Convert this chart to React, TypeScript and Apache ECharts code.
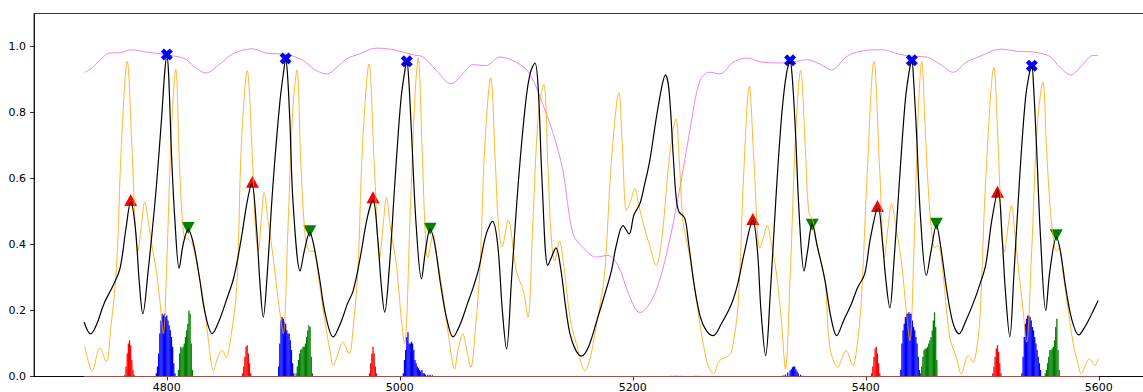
import React, { useEffect, useRef } from "react";
import * as echarts from "echarts";

const X_TICKS = [4800, 5000, 5200, 5400, 5600];
const Y_TICKS = [0, 0.2, 0.4, 0.6, 0.8, 1.0];

const blackLine: [number, number][] = [
  [4729, 0.165], [4734.5, 0.129], [4740, 0.16], [4746, 0.22], [4754.5, 0.28], [4760, 0.33], [4765, 0.45], [4769, 0.53],
  [4773, 0.45], [4776.5, 0.28], [4779.4, 0.19], [4784, 0.32], [4788, 0.46], [4791, 0.575], [4795.4, 0.777], [4798.3, 0.927],
  [4800, 0.97], [4801.5, 0.92], [4804, 0.675], [4807, 0.47], [4810.6, 0.328], [4814, 0.4], [4818.3, 0.445], [4823, 0.4],
  [4828, 0.3], [4833, 0.19], [4839, 0.13], [4845, 0.17], [4851, 0.23], [4857.5, 0.3], [4864, 0.42], [4869, 0.53],
  [4873, 0.585], [4877, 0.45], [4880, 0.28], [4882.8, 0.18], [4886, 0.3], [4891, 0.575], [4897, 0.83], [4900.5, 0.93],
  [4902, 0.96], [4903.5, 0.92], [4905.6, 0.777], [4908.4, 0.525], [4914.5, 0.32], [4918, 0.38], [4922.7, 0.437], [4926, 0.4],
  [4931, 0.3], [4936, 0.19], [4942.8, 0.12], [4950, 0.17], [4955, 0.22], [4960, 0.26], [4966, 0.36], [4972, 0.48],
  [4977, 0.535], [4981, 0.42], [4984, 0.28], [4987, 0.195], [4991, 0.33], [4996, 0.6], [5001, 0.84], [5004.5, 0.93],
  [5006, 0.955], [5007.5, 0.91], [5010, 0.74], [5014, 0.46], [5018.6, 0.296], [5022, 0.38], [5026, 0.447], [5030, 0.4],
  [5035, 0.28], [5040, 0.18], [5045.7, 0.12], [5052, 0.16], [5058, 0.22], [5063, 0.27], [5068, 0.33], [5074, 0.43],
  [5079.6, 0.47], [5084, 0.4], [5088, 0.2], [5091.6, 0.084], [5096, 0.3], [5102, 0.6], [5108, 0.83], [5112, 0.92],
  [5116, 0.95], [5119, 0.86], [5122, 0.6], [5127, 0.336], [5130, 0.36], [5134, 0.39], [5138, 0.33], [5142, 0.22],
  [5146, 0.13], [5151, 0.08], [5156, 0.062], [5162, 0.09], [5170, 0.18], [5176, 0.25], [5181.6, 0.32], [5186, 0.4],
  [5191.6, 0.457], [5196.8, 0.432], [5201, 0.49], [5206, 0.523], [5210, 0.58], [5214.6, 0.655], [5220, 0.78], [5225, 0.88],
  [5228, 0.914], [5231, 0.87], [5234.6, 0.675], [5237, 0.55], [5239.5, 0.5], [5244.6, 0.48], [5248, 0.4], [5253, 0.27],
  [5258, 0.18], [5263, 0.14], [5269, 0.124], [5276, 0.16], [5284.7, 0.22], [5290, 0.28], [5296, 0.38], [5303, 0.473],
  [5307, 0.38], [5310, 0.2], [5314, 0.064], [5318, 0.25], [5323, 0.55], [5328, 0.8], [5332, 0.92], [5335, 0.955],
  [5337, 0.9], [5339.5, 0.75], [5343, 0.48], [5347, 0.32], [5350, 0.38], [5354, 0.463], [5358, 0.4], [5365, 0.29],
  [5370, 0.18], [5375, 0.124], [5381, 0.17], [5387.6, 0.22], [5393, 0.27], [5399, 0.31], [5404, 0.42], [5410.6, 0.513],
  [5414, 0.42], [5417, 0.3], [5420.6, 0.208], [5424, 0.34], [5429, 0.6], [5434, 0.84], [5437.5, 0.93], [5439.5, 0.955],
  [5441, 0.9], [5443.5, 0.74], [5447, 0.48], [5452, 0.306], [5456, 0.38], [5460.6, 0.458], [5464, 0.4], [5470, 0.25],
  [5475, 0.16], [5480, 0.129], [5486, 0.17], [5492, 0.22], [5498, 0.28], [5503, 0.34], [5508, 0.47], [5513.6, 0.564],
  [5517, 0.42], [5520, 0.25], [5523.6, 0.12], [5527, 0.3], [5532, 0.6], [5537, 0.84], [5540.5, 0.92], [5542.5, 0.94],
  [5544, 0.88], [5546.5, 0.7], [5550, 0.42], [5554.5, 0.2], [5558, 0.32], [5563.7, 0.422], [5567, 0.38], [5572, 0.26],
  [5577, 0.17], [5582.8, 0.126], [5588, 0.15], [5594, 0.19], [5599.4, 0.23],
];

const orangeLine: [number, number][] = [
  [4729.6, 0.09], [4736, 0.018], [4742.5, 0.086], [4748, 0.045], [4752, 0.15], [4756.8, 0.33], [4761, 0.7], [4766, 0.955],
  [4770, 0.7], [4773, 0.45], [4775, 0.38], [4778, 0.45], [4781, 0.528], [4785, 0.45], [4788, 0.38], [4791, 0.32],
  [4794, 0.23], [4797, 0.13], [4800, 0.35], [4804, 0.75], [4807.7, 0.93], [4811, 0.63], [4815, 0.42], [4818, 0.417],
  [4822, 0.4], [4828, 0.3], [4833, 0.19], [4836, 0.1], [4840, 0.018], [4844, 0.06], [4847.5, 0.079], [4851, 0.058],
  [4855, 0.12], [4860, 0.27], [4864, 0.7], [4869, 0.927], [4873, 0.7], [4876, 0.45], [4878.5, 0.38], [4881, 0.47],
  [4883.6, 0.558], [4887, 0.47], [4891, 0.37], [4895, 0.25], [4898, 0.17], [4900, 0.13], [4904, 0.45], [4908, 0.8],
  [4911.8, 0.929], [4915, 0.65], [4919, 0.42], [4923, 0.38], [4926, 0.38], [4931, 0.28], [4936, 0.16], [4940, 0.08],
  [4942.8, 0.033], [4947, 0.07], [4951, 0.104], [4956.5, 0.069], [4960, 0.15], [4964, 0.32], [4968, 0.7], [4973.6, 0.947],
  [4978, 0.65], [4982.8, 0.36], [4986, 0.47], [4988.5, 0.543], [4992, 0.45], [4997, 0.34], [5001.4, 0.17], [5004, 0.1],
  [5009, 0.5], [5013, 0.85], [5015.8, 0.965], [5019, 0.7], [5022, 0.42], [5024, 0.36], [5028.5, 0.43], [5032, 0.36],
  [5037, 0.25], [5042, 0.12], [5047, 0.023], [5050, 0.08], [5054, 0.129], [5058, 0.07], [5061, 0.028], [5065, 0.15],
  [5068.7, 0.32], [5073, 0.7], [5078, 0.905], [5082, 0.65], [5084.5, 0.47], [5087.8, 0.392], [5093, 0.473], [5100, 0.32],
  [5106, 0.26], [5110, 0.18], [5114, 0.45], [5119, 0.8], [5123.6, 0.885], [5127, 0.65], [5130, 0.42], [5133, 0.35],
  [5137, 0.41], [5141, 0.33], [5146, 0.18], [5151.5, 0.1], [5159, 0.018], [5163, 0.05], [5167, 0.12], [5172, 0.22],
  [5176, 0.32], [5181.6, 0.65], [5188, 0.86], [5191, 0.7], [5194.6, 0.503], [5198, 0.53], [5201.7, 0.569], [5205, 0.52],
  [5210, 0.45], [5215, 0.39], [5220, 0.336], [5225, 0.42], [5231.7, 0.675], [5237, 0.78], [5240, 0.65], [5243, 0.47],
  [5248, 0.38], [5253, 0.27], [5258, 0.15], [5261.8, 0.074], [5265, 0.03], [5269.5, 0.008], [5273, 0.04], [5276, 0.053],
  [5281, 0.06], [5284.7, 0.074], [5290.4, 0.22], [5295, 0.6], [5300, 0.879], [5304, 0.65], [5309, 0.39], [5312, 0.42],
  [5315.4, 0.458], [5319, 0.4], [5323, 0.32], [5327.5, 0.17], [5331, 0.023], [5335, 0.3], [5340, 0.75], [5344, 0.927],
  [5348, 0.7], [5351, 0.5], [5354.8, 0.47], [5358, 0.4], [5365, 0.29], [5369, 0.09], [5376, 0.028], [5380, 0.06],
  [5383, 0.079], [5389, 0.033], [5392, 0.08], [5396, 0.22], [5401, 0.6], [5407, 0.955], [5412, 0.62], [5416, 0.36],
  [5419, 0.45], [5422, 0.523], [5426, 0.45], [5430.5, 0.35], [5434.7, 0.2], [5437.8, 0.109], [5441, 0.35], [5445, 0.8],
  [5448, 0.955], [5451, 0.75], [5453.5, 0.574], [5457, 0.42], [5459, 0.39], [5462, 0.397], [5466, 0.32], [5472, 0.12],
  [5477.7, 0.058], [5482, 0.008], [5485, 0.04], [5488, 0.064], [5492, 0.043], [5495, 0.08], [5498, 0.18], [5503, 0.6],
  [5510, 0.937], [5513, 0.75], [5516.4, 0.47], [5519, 0.377], [5522, 0.45], [5525, 0.518], [5528, 0.43], [5531, 0.33],
  [5535, 0.2], [5538, 0.104], [5542, 0.35], [5547, 0.75], [5552, 0.892], [5555, 0.7], [5558, 0.523], [5561, 0.42],
  [5563.7, 0.38], [5566, 0.39], [5569, 0.32], [5573, 0.22], [5578, 0.1], [5582, 0.04], [5585, 0.008], [5589, 0.04],
  [5592, 0.053], [5596.6, 0.033], [5599.4, 0.053],
];

const violetLine: [number, number][] = [
  [4729.6, 0.922], [4736, 0.935], [4742.5, 0.958], [4751, 0.98], [4759.7, 0.981], [4769.7, 0.99], [4782.6, 0.983],
  [4794, 0.978], [4811, 0.968], [4817, 0.96], [4822.6, 0.942], [4833.5, 0.92], [4845.5, 0.947], [4857, 0.978],
  [4873.4, 0.993], [4885.4, 0.98], [4902.6, 0.976], [4917, 0.958], [4927, 0.93], [4937, 0.917], [4947, 0.94],
  [4954, 0.962], [4965.7, 0.978], [4980, 0.995], [4995, 0.99], [5011, 0.975], [5020, 0.968], [5031.5, 0.927],
  [5044, 0.887], [5054, 0.917], [5063, 0.945], [5074, 0.942], [5085.8, 0.968], [5100, 0.952], [5111.6, 0.917],
  [5125.8, 0.796], [5133, 0.72], [5140, 0.624], [5148.7, 0.432], [5157, 0.392], [5168.7, 0.362], [5178.6, 0.367],
  [5187.5, 0.335], [5197, 0.245], [5206, 0.193], [5217.5, 0.24], [5229, 0.372], [5240.5, 0.574], [5249, 0.745],
  [5257.7, 0.897], [5266, 0.922], [5274.7, 0.917], [5286, 0.952], [5297.6, 0.965], [5311.8, 0.952], [5332, 0.95],
  [5349, 0.96], [5360.5, 0.947], [5370.5, 0.929], [5383, 0.968], [5392, 0.983], [5409, 0.99], [5414.9, 0.99],
  [5429, 0.976], [5443, 0.97], [5452, 0.968], [5463.5, 0.947], [5475, 0.922], [5486, 0.952], [5497.8, 0.97],
  [5516, 0.992], [5529, 0.986], [5543.6, 0.983], [5558, 0.97], [5566.5, 0.937], [5576, 0.914], [5586.5, 0.947],
  [5595, 0.973], [5599.4, 0.973],
];

const redPeaks: [number, number][] = [
  [4769, 0.535], [4873.5, 0.59], [4977, 0.543], [5303, 0.477], [5410, 0.517], [5513, 0.56],
];
const greenPeaks: [number, number][] = [
  [4818.3, 0.45], [4922.7, 0.44], [5026, 0.448], [5354, 0.46], [5460.5, 0.463], [5563.5, 0.428],
];
const bluePeaks: [number, number][] = [
  [4800, 0.976], [4902, 0.964], [5006, 0.955], [5335, 0.958], [5439.5, 0.958], [5542.5, 0.942],
];

const redHist: [number, number][] = [
  [4764, 0.005], [4765, 0.03], [4766, 0.07], [4767, 0.1], [4768, 0.11], [4769, 0.095], [4770, 0.05], [4771, 0.02], [4772, 0.005],
  [4865, 0.01], [4866, 0.03], [4867, 0.06], [4868, 0.09], [4869, 0.095], [4870, 0.07], [4871, 0.04], [4872, 0.01],
  [4974, 0.01], [4975, 0.04], [4976, 0.07], [4977, 0.09], [4978, 0.07], [4979, 0.03], [4980, 0.01],
  [5405, 0.01], [5406, 0.03], [5407, 0.06], [5408, 0.085], [5409, 0.09], [5410, 0.07], [5411, 0.04], [5412, 0.01],
  [5509, 0.01], [5510, 0.03], [5511, 0.06], [5512, 0.085], [5513, 0.095], [5514, 0.075], [5515, 0.04], [5516, 0.01],
];

const blueHist: [number, number][] = [
  [4791, 0.01], [4792, 0.03], [4793, 0.07], [4794, 0.13], [4795, 0.17], [4796, 0.19], [4797, 0.185], [4798, 0.19],
  [4799, 0.18], [4800, 0.185], [4801, 0.17], [4802, 0.155], [4803, 0.14], [4804, 0.12], [4805, 0.09], [4806, 0.04], [4807, 0.01],
  [4896, 0.03], [4897, 0.1], [4898, 0.17], [4899, 0.18], [4900, 0.175], [4901, 0.165], [4902, 0.16], [4903, 0.14],
  [4904, 0.13], [4905, 0.13], [4906, 0.11], [4907, 0.08], [4908, 0.04], [4909, 0.01],
  [5003, 0.01], [5004, 0.05], [5005, 0.08], [5006, 0.12], [5007, 0.134], [5008, 0.1], [5009, 0.1], [5010, 0.105],
  [5011, 0.1], [5012, 0.08], [5013, 0.05], [5014, 0.04], [5015, 0.03], [5016, 0.025], [5017, 0.02], [5018, 0.015],
  [5019, 0.02], [5020, 0.01], [5021, 0.01], [5022, 0.006], [5024, 0.005], [5026, 0.005], [5028, 0.004],
  [5329, 0.003], [5331, 0.006], [5333, 0.012], [5335, 0.018], [5336, 0.022], [5337, 0.028], [5338, 0.03], [5339, 0.03],
  [5340, 0.022], [5341, 0.015], [5342, 0.01], [5344, 0.005], [5346, 0.002],
  [5430, 0.02], [5431, 0.1], [5432, 0.14], [5433, 0.16], [5434, 0.18], [5435, 0.19], [5436, 0.19], [5437, 0.195],
  [5438, 0.19], [5439, 0.19], [5440, 0.17], [5441, 0.15], [5442, 0.14], [5443, 0.12], [5444, 0.1], [5445, 0.06], [5446, 0.02],
  [5534, 0.01], [5535, 0.06], [5536, 0.12], [5537, 0.16], [5538, 0.175], [5539, 0.185], [5540, 0.185], [5541, 0.18],
  [5542, 0.17], [5543, 0.15], [5544, 0.14], [5545, 0.12], [5546, 0.1], [5547, 0.08], [5548, 0.06], [5549, 0.04], [5550, 0.02],
];

const greenHist: [number, number][] = [
  [4810, 0.02], [4811, 0.07], [4812, 0.09], [4813, 0.085], [4814, 0.09], [4815, 0.1], [4816, 0.12], [4817, 0.14],
  [4818, 0.16], [4819, 0.2], [4820, 0.19], [4821, 0.1], [4822, 0.02],
  [4911, 0.01], [4912, 0.03], [4913, 0.05], [4914, 0.07], [4915, 0.08], [4916, 0.085], [4917, 0.09], [4918, 0.09],
  [4919, 0.1], [4920, 0.12], [4921, 0.14], [4922, 0.155], [4923, 0.15], [4924, 0.06], [4925, 0.01],
  [5447, 0.01], [5448, 0.03], [5449, 0.06], [5450, 0.08], [5451, 0.085], [5452, 0.085], [5453, 0.09], [5454, 0.1],
  [5455, 0.11], [5456, 0.12], [5457, 0.14], [5458, 0.17], [5459, 0.195], [5460, 0.15], [5461, 0.05],
  [5554, 0.01], [5555, 0.02], [5556, 0.04], [5557, 0.06], [5558, 0.08], [5559, 0.08], [5560, 0.085], [5561, 0.09],
  [5562, 0.11], [5563, 0.15], [5564, 0.175], [5565, 0.08], [5566, 0.02],
];

const faintBlueHist: [number, number][] = [
  [5233, 0.004], [5235, 0.004], [5237, 0.005], [5239, 0.004], [5241, 0.004], [5243, 0.003],
];
const faintGreenHist: [number, number][] = [
  [5252, 0.003], [5254, 0.004], [5256, 0.004], [5258, 0.003],
];

const baseline: [number, number][] = [[4729, 0], [5600, 0]];

const X_SHAPE =
  "path://M2.6,0 L5,2.4 L7.4,0 L10,2.6 L7.6,5 L10,7.4 L7.4,10 L5,7.6 L2.6,10 L0,7.4 L2.4,5 L0,2.6 Z";

function histSeries(data: [number, number][], color: string, opacity = 1) {
  return {
    type: "custom",
    data,
    z: 1,
    clip: true,
    renderItem: (_params: any, api: any) => {
      const x = api.value(0);
      const h = api.value(1);
      const p0 = api.coord([x - 0.55, h]);
      const p1 = api.coord([x + 0.55, 0]);
      return {
        type: "rect",
        shape: { x: p0[0], y: p0[1], width: p1[0] - p0[0], height: p1[1] - p0[1] },
        style: { fill: color, opacity },
      };
    },
  };
}

export default function App() {
  const ref = useRef<HTMLDivElement>(null);
  useEffect(() => {
    const chart = echarts.init(ref.current!, null, { renderer: "svg" });
    const font = { fontFamily: "DejaVu Sans", fontSize: 11, color: "#000" };
    const option: any = {
      animation: false,
      backgroundColor: "#fff",
      grid: {
        left: 34,
        top: 13.5,
        right: -9.4,
        bottom: 15.5,
        show: true,
        borderColor: "#000",
        borderWidth: 0.8,
        backgroundColor: "transparent",
        containLabel: false,
        outerBoundsMode: "none",
      },
      xAxis: {
        type: "value",
        min: 4686,
        max: 5646,
        splitLine: { show: false },
        axisLine: { show: true, onZero: false, lineStyle: { color: "#000", width: 0.8 } },
        axisTick: { show: true, length: 4, customValues: X_TICKS, lineStyle: { color: "#000", width: 0.8 } },
        axisLabel: { ...font, margin: 5, customValues: X_TICKS, formatter: (v: number) => String(v) },
      },
      yAxis: {
        type: "value",
        min: 0,
        max: 1.1,
        splitLine: { show: false },
        axisLine: { show: true, lineStyle: { color: "#000", width: 0.8 } },
        axisTick: { show: true, length: 4, customValues: Y_TICKS, lineStyle: { color: "#000", width: 0.8 } },
        axisLabel: { ...font, margin: 8, customValues: Y_TICKS, formatter: (v: number) => v.toFixed(1) },
      },
      series: [
        histSeries(redHist, "#ff0000"),
        histSeries(blueHist, "#0000ff"),
        histSeries(greenHist, "#008000"),
        histSeries(faintBlueHist, "#9a8cff", 0.6),
        histSeries(faintGreenHist, "#6aa86a", 0.6),
        {
          type: "line",
          data: baseline,
          showSymbol: false,
          z: 2,
          lineStyle: { color: "#a0524a", width: 1 },
        },
        {
          type: "line",
          data: violetLine,
          smooth: 0.35,
          showSymbol: false,
          z: 3,
          lineStyle: { color: "#ee82ee", width: 1 },
        },
        {
          type: "scatter",
          data: redPeaks,
          symbol: "triangle",
          symbolSize: [13, 12],
          z: 4,
          itemStyle: { color: "#ff0000", opacity: 1 },
        },
        {
          type: "scatter",
          data: greenPeaks,
          symbol: "triangle",
          symbolRotate: 180,
          symbolSize: [13, 12],
          z: 4,
          itemStyle: { color: "#008000", opacity: 1 },
        },
        {
          type: "scatter",
          data: bluePeaks,
          symbol: X_SHAPE,
          symbolSize: 12,
          z: 4,
          itemStyle: { color: "#0000ff", opacity: 1 },
        },
        {
          type: "line",
          data: orangeLine,
          smooth: 0.35,
          showSymbol: false,
          z: 5,
          lineStyle: { color: "#ffa500", width: 0.8 },
        },
        {
          type: "line",
          data: blackLine,
          smooth: 0.35,
          showSymbol: false,
          z: 6,
          lineStyle: { color: "#000000", width: 1.2 },
        },
      ],
    };
    chart.setOption(option);
    return () => chart.dispose();
  }, []);
  return (
    <div
      ref={ref}
      style={{ position: "absolute", left: 0, top: 0, width: 1143, height: 392 }}
    />
  );
}
